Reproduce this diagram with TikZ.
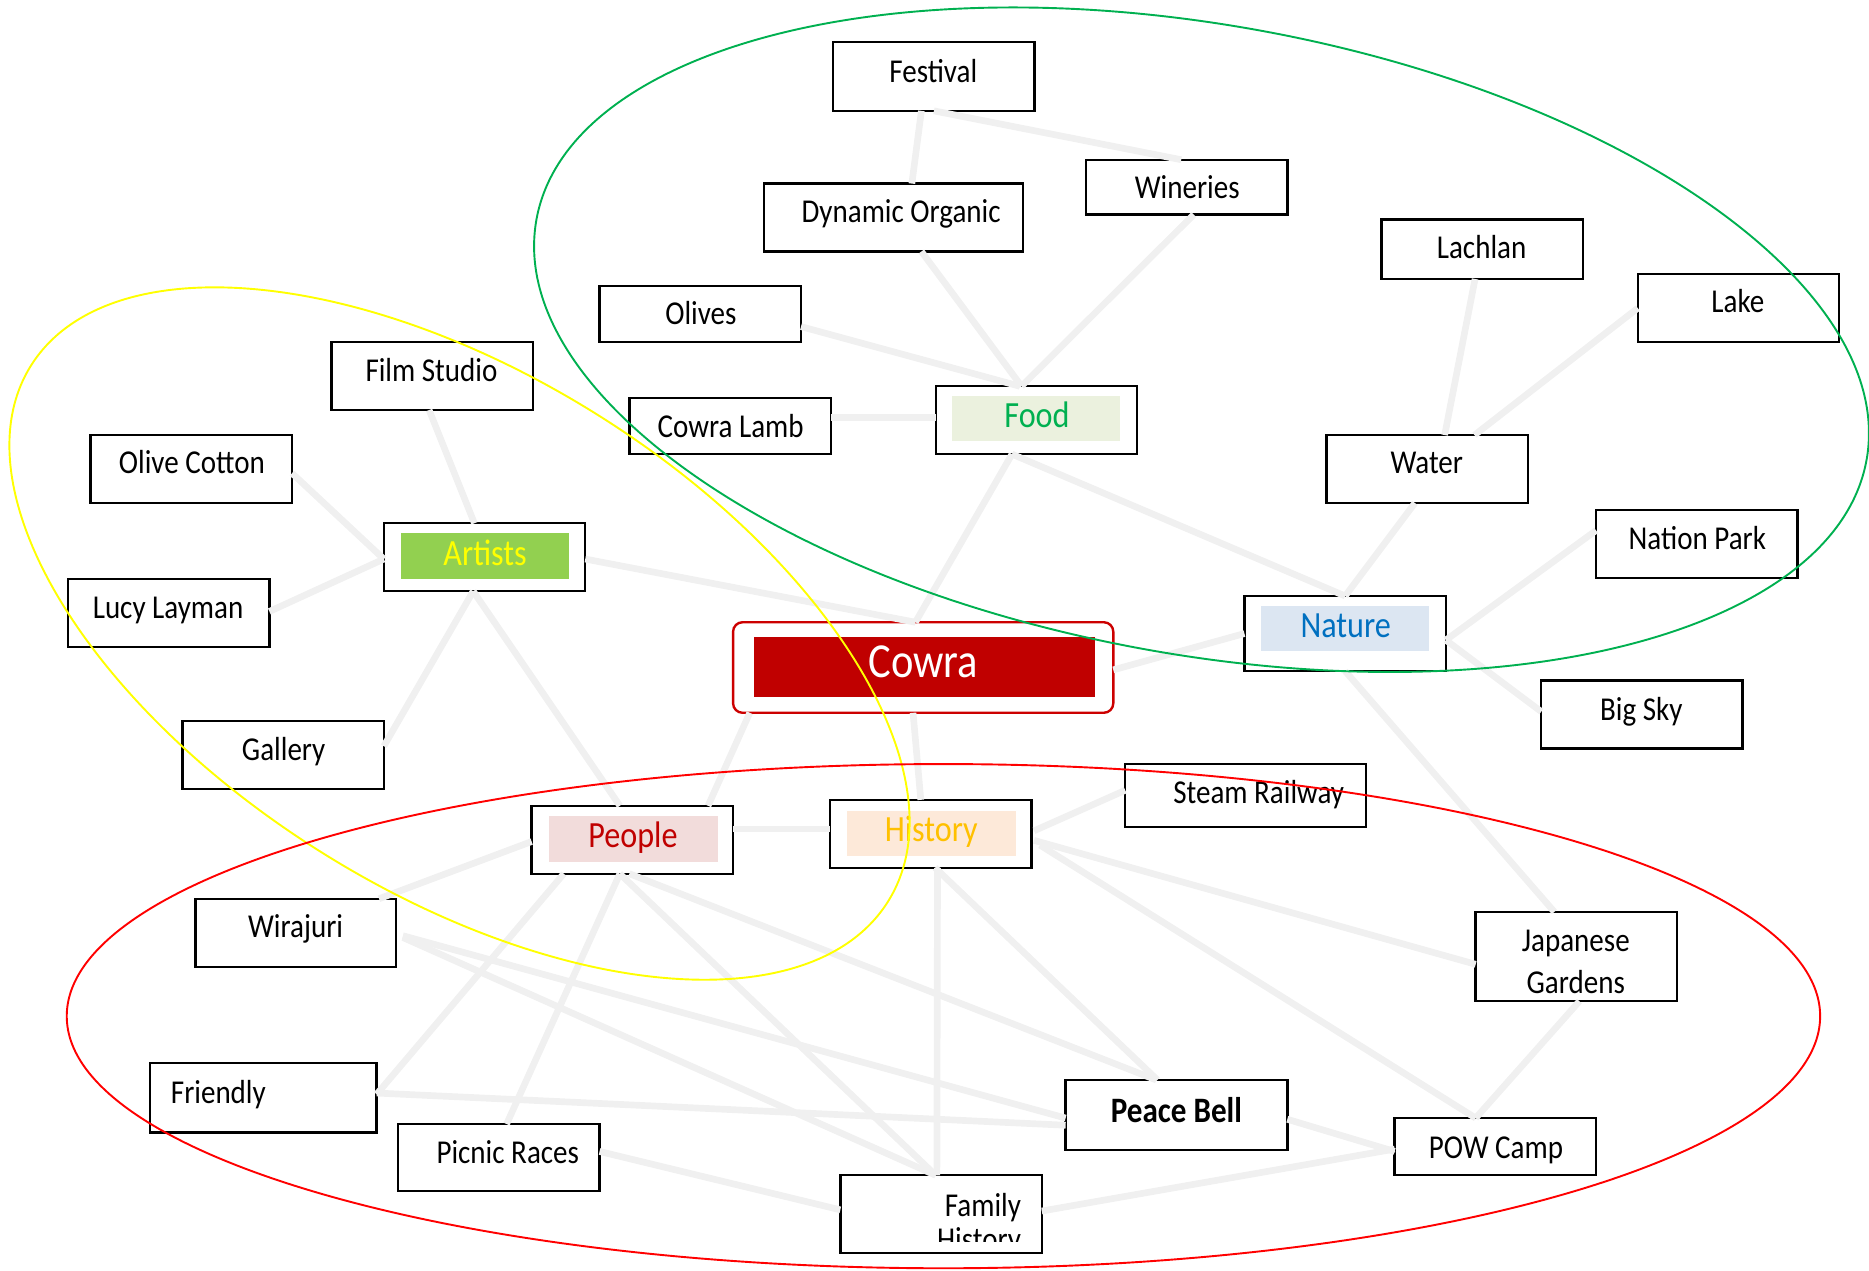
\documentclass[tikz,border=0pt]{standalone}
\usepackage{fontspec}
\setmainfont{Carlito}[FakeStretch=0.87]
\usetikzlibrary{calc}
\definecolor{linkgray}{RGB}{240,240,240}
\definecolor{ellgreen}{HTML}{00B050}
\definecolor{ellyellow}{HTML}{FFFF00}
\definecolor{ellred}{HTML}{FF0000}
\definecolor{cowraborder}{HTML}{CC0000}
\definecolor{cowrafill}{HTML}{C00000}
\definecolor{foodfill}{HTML}{EBF1DE}
\definecolor{foodtext}{HTML}{00B050}
\definecolor{artfill}{HTML}{92D050}
\definecolor{arttext}{HTML}{FFFF00}
\definecolor{natfill}{HTML}{DCE6F2}
\definecolor{nattext}{HTML}{0070C0}
\definecolor{peopfill}{HTML}{F2DCDB}
\definecolor{peoptext}{HTML}{C00000}
\definecolor{histfill}{HTML}{FDE9D9}
\definecolor{histtext}{HTML}{FFC000}
\tikzset{
  box/.style={draw=black, line width=1pt, fill=white, inner sep=0pt, outer sep=0pt},
  sz/.style 2 args={minimum width=#1*0.5pt, minimum height=#2*0.5pt},
  lbl/.style={inner sep=0pt, font=\fontsize{14}{17}\selectfont, text height=8.85pt, text depth=0pt},
  catlbl/.style={inner sep=0pt, font=\fontsize{15.5}{18}\selectfont, text height=9.8pt, text depth=0pt},
  link/.style={draw=linkgray, line width=2.8pt},
  ell/.style={line width=0.8pt},
}
\begin{document}
\begin{tikzpicture}[x=0.5pt,y=-0.5pt]
\useasboundingbox (0,0) rectangle (1568,1066);

% ---------- boxes ----------
\node[box, sz={169}{58}] (festival) at (783.5,64) {};
\node[box, sz={169}{46}] (wineries) at (995.5,157) {};
\node[box, sz={217}{57}] (dynorg) at (749.5,182.5) {};
\node[box, sz={169}{50}] (lachlan) at (1243.5,209) {};
\node[box, sz={169}{57}] (lake) at (1458.5,258.5) {};
\node[box, sz={169}{47}] (olives) at (587.5,263.5) {};
\node[box, sz={169}{57}] (film) at (362.5,315.5) {};
\node[box, sz={169}{47}] (lamb) at (612.5,357.5) {};
\node[box, sz={169}{57}] (food) at (869.5,352.5) {};
\node[box, sz={169}{57}] (olivecotton) at (160.5,393.5) {};
\node[box, sz={169}{57}] (water) at (1197.5,393.5) {};
\node[box, sz={169}{57}] (nation) at (1423.5,456.5) {};
\node[box, sz={169}{57}] (artists) at (406.5,467.5) {};
\node[box, sz={169}{57}] (lucy) at (141.5,514.5) {};
\node[box, sz={169}{63}] (nature) at (1128.5,531.5) {};
\node[draw=cowraborder, line width=1pt, rounded corners=4pt, fill=white, inner sep=0pt, outer sep=0pt, sz={319}{76}] (cowra) at (774.5,560) {};
\node[box, sz={169}{57}] (bigsky) at (1377.5,599.5) {};
\node[box, sz={169}{57}] (gallery) at (237.5,633.5) {};
\node[box, sz={202}{53}] (steam) at (1045,667.5) {};
\node[box, sz={169}{57}] (people) at (530.5,704.5) {};
\node[box, sz={169}{57}] (history) at (781,699.5) {};
\node[box, sz={168}{57}] (wirajuri) at (248,782.5) {};
\node[box, sz={169}{75}] (japanese) at (1322.5,802.5) {};
\node[box, sz={190}{58}] (friendly) at (221,921) {};
\node[box, sz={186}{59}] (peace) at (987,935.5) {};
\node[box, sz={169}{56}] (picnic) at (418.5,971) {};
\node[box, sz={169}{48}] (pow) at (1254.5,962) {};
\node[box, sz={169}{65}] (family) at (789.5,1018.5) {};

% ---------- category fills ----------
\fill[foodfill] (799,332) rectangle (940,370);
\fill[artfill] (336,447) rectangle (477,486);
\fill[natfill] (1058,508) rectangle (1199,546);
\fill[peopfill] (460.5,684.5) rectangle (602.5,723);
\fill[histfill] (710.5,680.5) rectangle (852,718.5);
\fill[cowrafill] (632.5,534.5) rectangle (918.5,585);

% ---------- connectors ----------
\draw[link] ($(festival.south)+(-10.5,0)$) -- ($(dynorg.north)+(15.5,0)$);
\draw[link] (festival.south) -- ($(wineries.north)+(-4.5,0)$);
\draw[link] ($(dynorg.south)+(23.5,0)$) -- ($(food.north)+(-12.5,0)$);
\draw[link] ($(wineries.south)+(6,0)$) -- ($(food.north)+(-12.5,0)$);
\draw[link] ($(olives.east)+(0,10.5)$) -- ($(food.north)+(-14,0)$);
\draw[link] ($(lamb.east)+(0,-7.5)$) -- ($(food.west)+(0,-2.5)$);
\draw[link] ($(food.south)+(-20.5,0)$) -- ($(cowra.north)+(-6.5,0)$);
\draw[link] ($(food.south)+(-20.5,0)$) -- (nature.north);
\draw[link] ($(lachlan.south)+(-6,0)$) -- ($(water.north)+(14.5,0)$);
\draw[link] (lake.west) -- ($(water.north)+(39.5,0)$);
\draw[link] ($(water.south)+(-10.5,0)$) -- (nature.north);
\draw[link] ($(nation.west)+(0,-11.5)$) -- ($(nature.east)+(0,5.5)$);
\draw[link] ($(nature.east)+(0,5.5)$) -- ($(bigsky.west)+(0,-2.5)$);
\draw[link] (nature.west) -- ($(cowra.east)+(0,2)$);
\draw[link] (nature.south) -- ($(japanese.north)+(-18.5,0)$);
\draw[link] ($(film.south)+(-2.5,0)$) -- ($(artists.north)+(-8.5,0)$);
\draw[link] ($(olivecotton.east)+(0,3.5)$) -- ($(artists.west)+(0,1.5)$);
\draw[link] ($(lucy.east)+(0,-1.5)$) -- ($(artists.west)+(0,1.5)$);
\draw[link] ($(artists.east)+(0,1.5)$) -- ($(cowra.north)+(-6.5,0)$);
\draw[link] ($(artists.south)+(-9.5,0)$) -- ($(gallery.east)+(0,-7.5)$);
\draw[link] ($(artists.south)+(-9.5,0)$) -- ($(people.north)+(-10.5,0)$);
\draw[link] ($(cowra.south)+(-145.5,0)$) -- ($(people.north)+(63.5,0)$);
\draw[link] ($(cowra.south)+(-8.5,0)$) -- ($(history.north)+(-8.5,0)$);
\draw[link] ($(people.east)+(0,-9)$) -- ($(history.west)+(0,-4)$);
\draw[link] ($(people.west)+(0,1.5)$) -- ($(wirajuri.north)+(70,0)$);
\draw[link] ($(people.south)+(-57.5,0)$) -- ($(friendly.east)+(0,-3)$);
\draw[link] ($(people.south)+(-10.5,0)$) -- ($(picnic.north)+(6.5,0)$);
\draw[link] ($(people.south)+(-10.5,0)$) -- ($(family.north)+(-4.5,0)$);
\draw[link] ($(people.south)+(-2.5,0)$) -- ($(peace.north)+(-17,0)$);
\draw[link] ($(wirajuri.east)+(6,2.5)$) -- ($(peace.west)+(0,2.5)$);
\draw[link] ($(wirajuri.east)+(6,4)$) -- ($(family.north)+(-4.5,0)$);
\draw[link] ($(friendly.east)+(0,-4)$) -- ($(peace.west)+(0,8.5)$);
\draw[link] ($(picnic.east)+(0,-5)$) -- ($(family.west)+(0,-3.5)$);
\draw[link] ($(history.south)+(5.5,0)$) -- ($(family.north)+(-3.5,0)$);
\draw[link] ($(history.east)+(2,-2.5)$) -- ($(steam.west)+(0,-4.5)$);
\draw[link] ($(history.east)+(2,5.5)$) -- ($(japanese.west)+(0,6.5)$);
\draw[link] ($(history.east)+(7,9.5)$) -- ($(pow.north)+(-16.5,0)$);
\draw[link] ($(history.south)+(3.5,0)$) -- ($(peace.north)+(-16,0)$);
\draw[link] ($(japanese.south)+(2.5,0)$) -- ($(pow.north)+(-16.5,0)$);
\draw[link] ($(peace.east)+(0,3.5)$) -- ($(pow.west)+(0,4)$);
\draw[link] ($(family.east)+(0,-2.5)$) -- ($(pow.west)+(0,2)$);

% ---------- labels ----------
\node[lbl] (festival-l) at (783,60) {Festival};
\node[lbl] (wineries-l) at (996,158) {Wineries};
\node[lbl] (dynorg-l) at (756,178) {Dynamic Organic};
\node[lbl] (lachlan-l) at (1243,208) {Lachlan};
\node[lbl] (lake-l) at (1458,253) {Lake};
\node[lbl] (olives-l) at (588,263) {Olives};
\node[lbl] (film-l) at (362,311) {Film Studio};
\node[lbl] (lamb-l) at (613,358) {Cowra Lamb};
\node[lbl] (olivecotton-l) at (161,388) {Olive Cotton};
\node[lbl] (water-l) at (1197,388) {Water};
\node[lbl] (nation-l) at (1424,452) {Nation Park};
\node[lbl] (lucy-l) at (141,510) {Lucy Layman};
\node[lbl] (bigsky-l) at (1377,596) {Big Sky};
\node[lbl] (gallery-l) at (238,629) {Gallery};
\node[lbl] (steam-l) at (1056,665) {Steam Railway};
\node[lbl] (wirajuri-l) at (248,778) {Wirajuri};
\node[inner sep=0pt, anchor=north, align=center, font=\fontsize{14}{17.5}\selectfont] (japanese-l) at (1322,780) {Japanese\\Gardens};
\node[lbl, anchor=west] (friendly-l) at (143,917) {Friendly};
\node[inner sep=0pt, font=\fontsize{15}{18}\selectfont\bfseries, text height=9.5pt, text depth=0pt] (peace-l) at (987,932) {Peace Bell};
\node[lbl] (picnic-l) at (426,967) {Picnic Races};
\node[lbl] (pow-l) at (1255,963) {POW Camp};
\begin{scope}
  \clip (706,987) rectangle (873,1041.7);
  \node[inner sep=0pt, anchor=north east, align=right, font=\fontsize{14}{14.25}\selectfont] (family-l) at (857,1001) {Family\\History};
\end{scope}

\node[catlbl, text=foodtext] (food-l) at (870,349) {Food};
\node[catlbl, text=arttext] (artists-l) at (407,465) {Artists};
\node[catlbl, text=nattext] (nature-l) at (1129,525) {Nature};
\node[catlbl, text=peoptext] (people-l) at (531,701) {People};
\node[catlbl, text=histtext] (history-l) at (781.3,696.3) {History};
\node[inner sep=0pt, font=\fontsize{20.5}{24}\selectfont, text=white, text height=12.96pt, text depth=0pt] (cowra-l) at (774.5,555.5) {Cowra};

% ---------- group ellipses ----------
\draw[ell, draw=ellgreen, shift={(1008,285)}, rotate=-10.25] (0,0) ellipse [x radius=567, y radius=264];
\draw[ell, draw=ellyellow, shift={(385.5,531.5)}, rotate=-32] (0,0) ellipse [x radius=424, y radius=217];
\draw[ell, draw=ellred] (791.5,852.5) ellipse [x radius=735.5, y radius=211.5];
\end{tikzpicture}
\end{document}
